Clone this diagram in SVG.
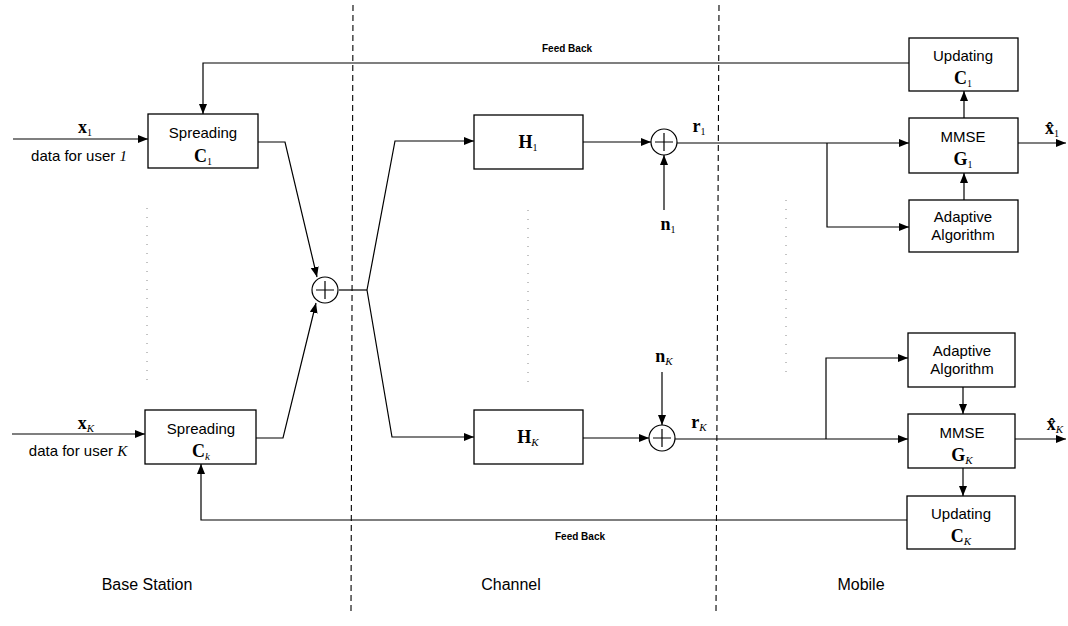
<svg xmlns="http://www.w3.org/2000/svg" width="1068" height="626" viewBox="0 0 1068 626">
<defs>
<marker id="ah" viewBox="0 0 10 8" refX="10" refY="4" markerWidth="10" markerHeight="8" markerUnits="userSpaceOnUse" orient="auto">
<path d="M0,0 L10,4 L0,8 Z" fill="#000"/>
</marker>
</defs>
<style>
.box{fill:#fff;stroke:#000;stroke-width:1.3}
.ln{fill:none;stroke:#000;stroke-width:1.2}
.ar{fill:none;stroke:#000;stroke-width:1.2;marker-end:url(#ah)}
.dash{fill:none;stroke:#000;stroke-width:1.1;stroke-dasharray:6 4}
.dot{fill:none;stroke:#888;stroke-width:1;stroke-dasharray:1 8}
.t{font-family:"Liberation Sans",Arial,sans-serif;font-size:15px;text-anchor:middle;fill:#000}
.tl{font-family:"Liberation Sans",Arial,sans-serif;font-size:16px;text-anchor:middle;fill:#000}
.fb{font-family:"Liberation Sans",Arial,sans-serif;font-size:10px;font-weight:bold;text-anchor:middle;fill:#000}
.m{font-family:"Liberation Serif","Times New Roman",serif;font-size:18px;font-weight:bold;text-anchor:middle;fill:#000}
.sub{font-size:10px;font-weight:normal}
.subi{font-size:11px;font-weight:normal;font-style:italic}
.circ{fill:#fff;stroke:#000;stroke-width:1.2}
</style>

<g id="dividers">
<line class="dash" x1="353" y1="5" x2="351" y2="612"/>
<line class="dash" x1="719" y1="5" x2="716" y2="612"/>
<line class="dot" x1="147" y1="208" x2="147" y2="385"/>
<line class="dot" x1="528" y1="210" x2="528" y2="390"/>
<line class="dot" x1="786" y1="200" x2="786" y2="375"/>
</g>

<g id="connectors">
<line class="ar" x1="13" y1="139" x2="148" y2="139"/>
<line class="ar" x1="12" y1="434" x2="145" y2="434"/>
<polyline class="ar" points="909,63 203,63 203,114"/>
<polyline class="ar" points="907,520 201,520 201,464"/>
<polyline class="ar" points="258,142 285,142 317,277"/>
<polyline class="ar" points="256,438 283,438 316,303"/>
<polyline class="ln" points="339,290 367,290"/>
<polyline class="ar" points="367,290 395,141 474,141"/>
<polyline class="ar" points="367,290 392,437 474,437"/>
<line class="ar" x1="583" y1="142" x2="651" y2="142"/>
<line class="ar" x1="583" y1="438" x2="649" y2="438"/>
<line class="ar" x1="664" y1="210" x2="664" y2="155"/>
<line class="ar" x1="662" y1="372" x2="662" y2="425"/>
<line class="ar" x1="677" y1="143" x2="909" y2="143"/>
<polyline class="ar" points="827,143 827,227 909,227"/>
<line class="ar" x1="675" y1="439" x2="908" y2="439"/>
<polyline class="ar" points="826,439 826,358 908,358"/>
<line class="ar" x1="964" y1="118" x2="964" y2="91"/>
<line class="ar" x1="964" y1="200" x2="964" y2="173"/>
<line class="ar" x1="963" y1="387" x2="963" y2="414"/>
<line class="ar" x1="963" y1="468" x2="963" y2="496"/>
<line class="ar" x1="1018" y1="143" x2="1066" y2="143"/>
<line class="ar" x1="1015" y1="439" x2="1066" y2="439"/>
</g>

<g id="spreading1">
<rect class="box" x="148" y="114" width="110" height="54"/>
<text class="t" x="203" y="138">Spreading</text>
<text class="m" x="203" y="162">C<tspan class="sub" dy="3">1</tspan></text>
</g>
<g id="spreadingK">
<rect class="box" x="145" y="410" width="111" height="54"/>
<text class="t" x="201" y="434">Spreading</text>
<text class="m" x="201" y="457">C<tspan class="subi" dy="3">k</tspan></text>
</g>
<g id="sum">
<circle class="circ" cx="325" cy="290" r="13"/>
<path class="ln" d="M316,290 H334 M325,281 V299"/>
</g>
<g id="H1">
<rect class="box" x="474" y="115" width="109" height="54"/>
<text class="m" x="528" y="148">H<tspan class="sub" dy="3">1</tspan></text>
</g>
<g id="HK">
<rect class="box" x="474" y="410" width="109" height="54"/>
<text class="m" x="528" y="443">H<tspan class="subi" dy="3">K</tspan></text>
</g>
<g id="adder1">
<circle class="circ" cx="664" cy="142" r="13"/>
<path class="ln" d="M655,142 H673 M664,133 V151"/>
</g>
<g id="adderK">
<circle class="circ" cx="662" cy="438" r="13"/>
<path class="ln" d="M653,438 H671 M662,429 V447"/>
</g>
<g id="updating1">
<rect class="box" x="909" y="38" width="109" height="53"/>
<text class="t" x="963" y="61">Updating</text>
<text class="m" x="963" y="84">C<tspan class="sub" dy="3">1</tspan></text>
</g>
<g id="mmse1">
<rect class="box" x="909" y="118" width="109" height="55"/>
<text class="t" x="963" y="142">MMSE</text>
<text class="m" x="963" y="165">G<tspan class="sub" dy="3">1</tspan></text>
</g>
<g id="adaptive1">
<rect class="box" x="909" y="200" width="109" height="52"/>
<text class="t" x="963" y="222">Adaptive</text>
<text class="t" x="963" y="240">Algorithm</text>
</g>
<g id="adaptiveK">
<rect class="box" x="908" y="333" width="107" height="54"/>
<text class="t" x="962" y="356">Adaptive</text>
<text class="t" x="962" y="374">Algorithm</text>
</g>
<g id="mmseK">
<rect class="box" x="908" y="414" width="107" height="54"/>
<text class="t" x="962" y="438">MMSE</text>
<text class="m" x="962" y="461">G<tspan class="subi" dy="3">K</tspan></text>
</g>
<g id="updatingK">
<rect class="box" x="907" y="496" width="108" height="53"/>
<text class="t" x="961" y="519">Updating</text>
<text class="m" x="961" y="542">C<tspan class="subi" dy="3">K</tspan></text>
</g>

<g id="labels">
<text class="m" x="85" y="133">x<tspan class="sub" dy="3">1</tspan></text>
<text class="t" x="79" y="161">data for user <tspan font-family="Liberation Serif" font-style="italic">1</tspan></text>
<text class="m" x="86" y="429">x<tspan class="subi" dy="3">K</tspan></text>
<text class="t" x="78" y="456">data for user <tspan font-family="Liberation Serif" font-style="italic">K</tspan></text>
<text class="m" x="668" y="230">n<tspan class="sub" dy="3">1</tspan></text>
<text class="m" x="664" y="362">n<tspan class="subi" dy="3">K</tspan></text>
<text class="m" x="699" y="132">r<tspan class="sub" dy="3">1</tspan></text>
<text class="m" x="699" y="428">r<tspan class="subi" dy="3">K</tspan></text>
<text class="m" x="1052" y="134">x̂<tspan class="sub" dy="3">1</tspan></text>
<text class="m" x="1055" y="430">x̂<tspan class="subi" dy="3">K</tspan></text>
<text class="fb" x="567" y="52">Feed Back</text>
<text class="fb" x="580" y="540">Feed Back</text>
<text class="tl" x="147" y="590">Base Station</text>
<text class="tl" x="511" y="590">Channel</text>
<text class="tl" x="861" y="590">Mobile</text>
</g>
</svg>
